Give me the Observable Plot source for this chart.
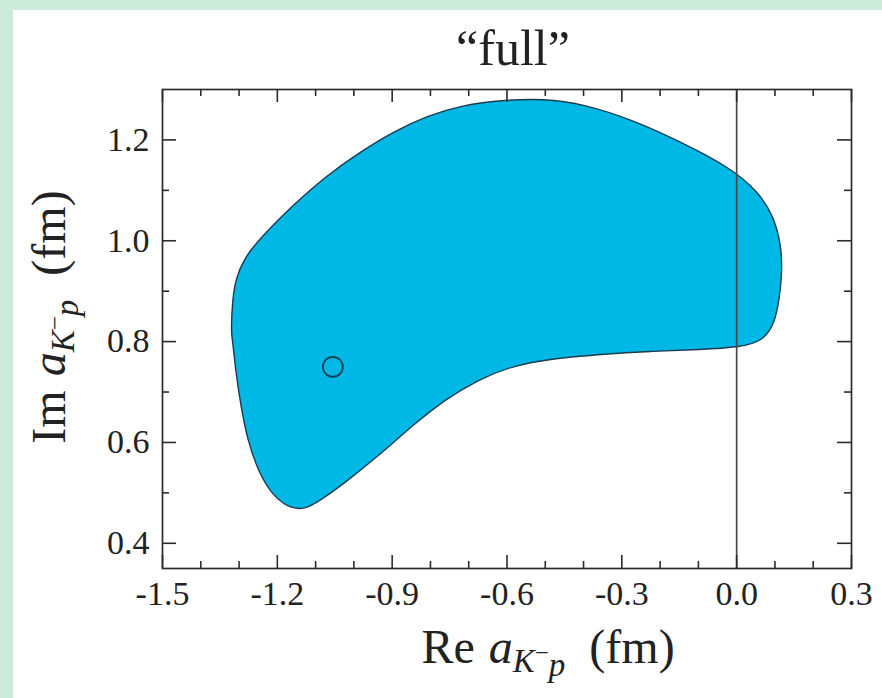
<!DOCTYPE html>
<html><head><meta charset="utf-8">
<script src="https://cdn.jsdelivr.net/npm/d3@7"></script>
<script src="https://cdn.jsdelivr.net/npm/@observablehq/plot@0.6"></script>
<style>
html,body{margin:0;padding:0;background:#c9ebd7;width:882px;height:698px;overflow:hidden}
#panel{position:absolute;left:13px;top:10px;width:869px;height:688px;background:#fff}
</style></head><body><div id="panel"></div>
<script>
const contourRe = [-1.321,-1.317,-1.308,-1.287,-1.245,-1.159,-1.070,-0.982,-0.895,-0.808,-0.721,-0.616,-0.504,-0.399,-0.269,-0.138,-0.015,0.057,0.097,0.116,0.119,0.112,0.099,0.068,0.010,-0.094,-0.225,-0.355,-0.486,-0.590,-0.677,-0.764,-0.851,-0.938,-1.025,-1.086,-1.130,-1.173,-1.217,-1.251,-1.278,-1.295,-1.308,-1.317];
const contourIm = [0.820,0.886,0.926,0.965,1.005,1.071,1.130,1.177,1.217,1.248,1.268,1.279,1.282,1.271,1.239,1.193,1.144,1.097,1.048,0.992,0.942,0.886,0.835,0.801,0.789,0.784,0.781,0.775,0.766,0.751,0.724,0.684,0.631,0.572,0.519,0.486,0.466,0.471,0.499,0.545,0.605,0.671,0.737,0.803];
const centralRe = [-1.055];
const centralIm = [0.75];
const xMajorTicks = [-1.5,-1.2,-0.9,-0.6,-0.3,0.0,0.3];
const xMinorTicks = [-1.4,-1.3,-1.1,-1.0,-0.8,-0.7,-0.5,-0.4,-0.2,-0.1,0.1,0.2];
const yMajorTicks = [0.4,0.6,0.8,1.0,1.2];
const yMinorTicks = [0.5,0.7,0.9,1.1];
const titleText = "“full”";

const W=869,H=688,mL=149,mR=31,mT=79,mB=130;
const fw=W-mL-mR, fh=H-mT-mB;
const contour = contourRe.map((x,i)=>({re:x, im:contourIm[i]}));
const central = centralRe.map((x,i)=>({re:x, im:centralIm[i]}));
const serif = "'Liberation Serif','Times New Roman',serif";
const fmt = d => d.toFixed(1);
const tk = "#2b2b2b";
const chart = Plot.plot({
  width:W, height:H, marginLeft:mL, marginRight:mR, marginTop:mT, marginBottom:mB,
  style:{fontFamily:serif, fontSize:"34px", background:"transparent", color:"#222"},
  x:{domain:[-1.5,0.3]}, y:{domain:[0.35,1.3]},
  marks:[
    Plot.line(contour,{x:"re",y:"im",curve:"basis-closed",fill:"#00b8e5",stroke:"#1b3b4f",strokeWidth:1.4}),
    Plot.ruleX([0],{stroke:"#4a4a4a",strokeWidth:1.7}),
    Plot.dot(central,{x:"re",y:"im",r:10,stroke:"#1b3b4f",strokeWidth:1.7,fill:"none"}),
    Plot.tickX(xMajorTicks,{x:d=>d,insetTop:fh-13,stroke:tk,strokeWidth:1.6}),
    Plot.tickX(xMinorTicks,{x:d=>d,insetTop:fh-7,stroke:tk,strokeWidth:1.6}),
    Plot.tickX(xMajorTicks,{x:d=>d,insetBottom:fh-13,stroke:tk,strokeWidth:1.6}),
    Plot.tickX(xMinorTicks,{x:d=>d,insetBottom:fh-7,stroke:tk,strokeWidth:1.6}),
    Plot.tickY(yMajorTicks,{y:d=>d,insetRight:fw-14,stroke:tk,strokeWidth:1.6}),
    Plot.tickY(yMinorTicks,{y:d=>d,insetRight:fw-7,stroke:tk,strokeWidth:1.6}),
    Plot.tickY(yMajorTicks,{y:d=>d,insetLeft:fw-14,stroke:tk,strokeWidth:1.6}),
    Plot.tickY(yMinorTicks,{y:d=>d,insetLeft:fw-7,stroke:tk,strokeWidth:1.6}),
    Plot.axisX({ticks:xMajorTicks,tickSize:0,tickPadding:12,tickFormat:fmt,label:null,fontSize:34}),
    Plot.axisY({ticks:yMajorTicks,tickSize:0,tickPadding:13,tickFormat:fmt,label:null,fontSize:34}),
    Plot.frame({stroke:"#2b2b2b",strokeWidth:1.7})
  ]
});
document.getElementById("panel").appendChild(chart);
const svg = d3.select(chart);
svg.append("text").attr("x",500).attr("y",55).attr("text-anchor","middle")
  .attr("font-size",50).attr("fill","#222").text(titleText);
function mathLabel(sel, head){
  sel.append("tspan").text(head);
  sel.append("tspan").attr("dx",14).attr("font-style","italic").text("a");
  sel.append("tspan").attr("font-style","italic").attr("font-size",33).attr("dy",9).text("K");
  sel.append("tspan").attr("font-size",25).attr("dy",-11).text("−");
  sel.append("tspan").attr("font-style","italic").attr("font-size",33).attr("dy",15).text("p");
  sel.append("tspan").attr("dy",-13).attr("dx",24).text("(fm)");
}
const xl = svg.append("text").attr("x",535).attr("y",653).attr("text-anchor","middle")
  .attr("font-size",48).attr("fill","#222");
mathLabel(xl,"Re");
const yl = svg.append("text").attr("transform","translate(52,307) rotate(-90)")
  .attr("text-anchor","middle").attr("font-size",48).attr("fill","#222");
mathLabel(yl,"Im");
</script></body></html>
